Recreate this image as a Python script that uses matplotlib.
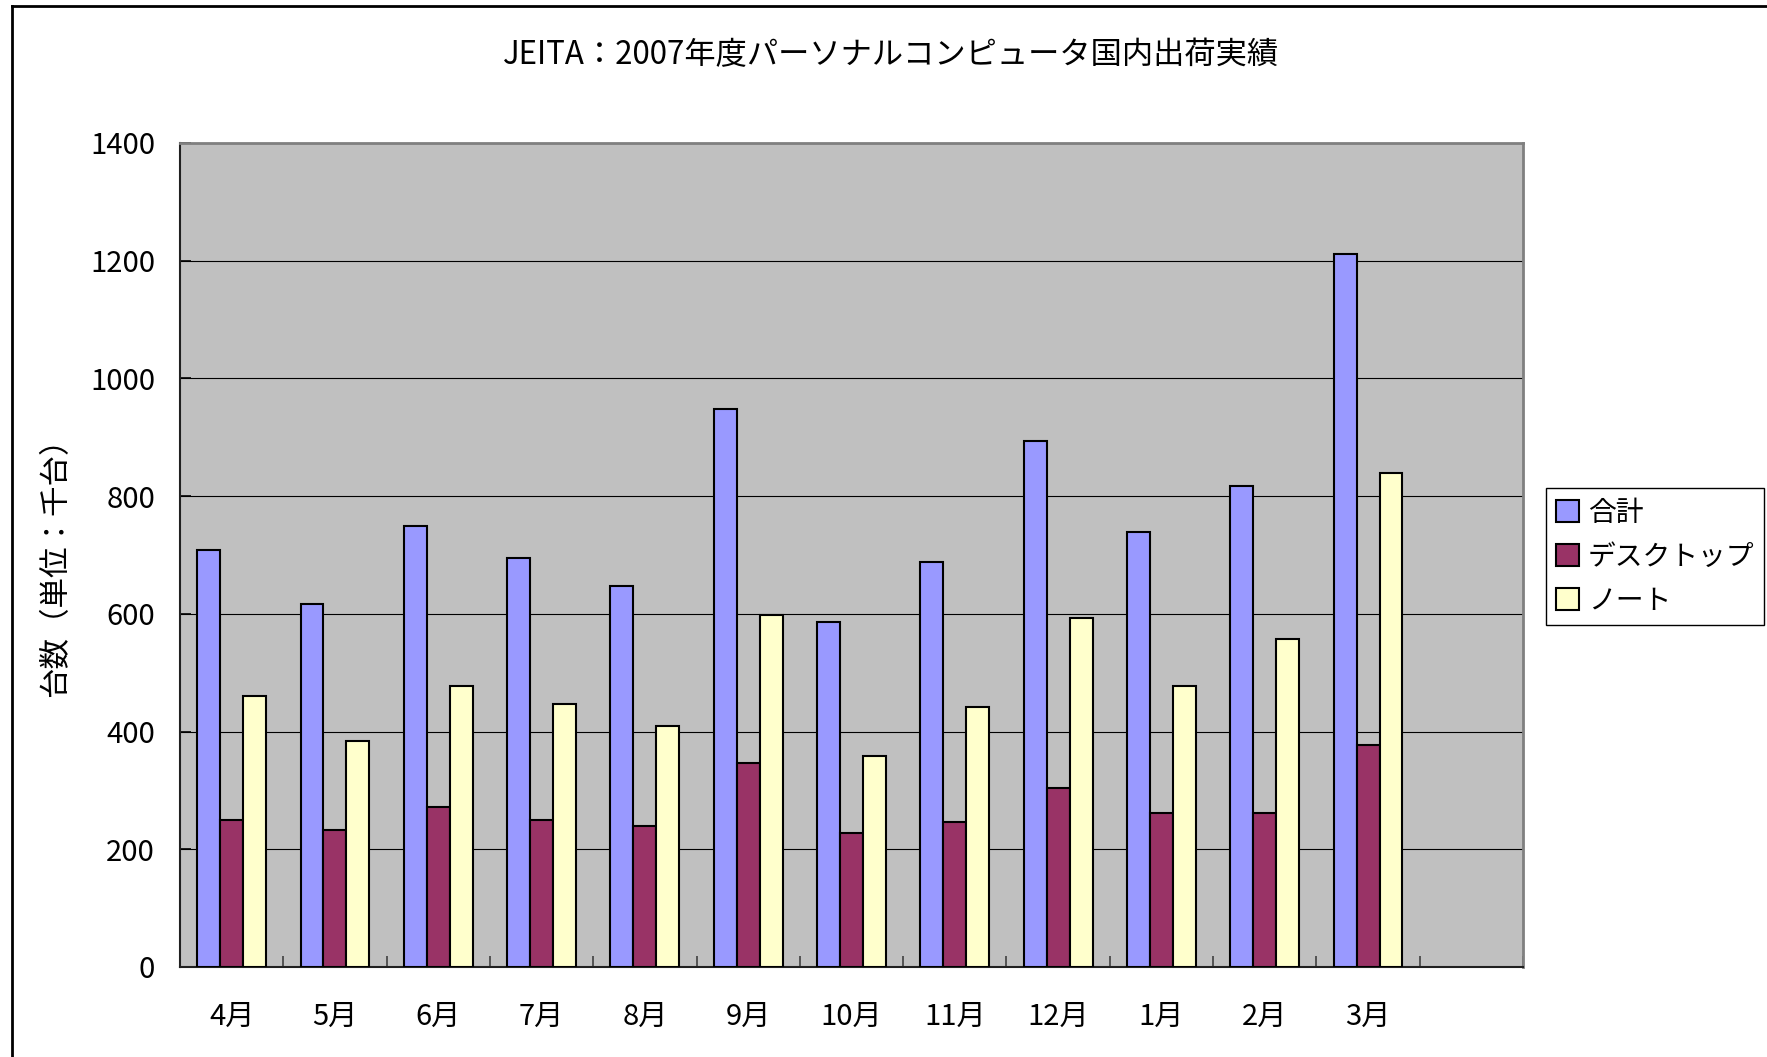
import numpy as np
import matplotlib
matplotlib.use("Agg")
from matplotlib import pyplot as plt
from matplotlib.lines import Line2D

plt.rcParams['font.family'] = ['Noto Sans CJK JP', 'DejaVu Sans']

months = ["4月", "5月", "6月", "7月", "8月", "9月", "10月", "11月", "12月",
          "1月", "2月", "3月"]
series_names = ["合計", "デスクトップ", "ノート"]
total = [709, 616, 750, 695, 648, 948, 587, 688, 894, 739, 818, 1211]
desktop = [249, 232, 272, 249, 239, 347, 228, 247, 304, 261, 261, 377]
notebook = [460, 384, 478, 446, 409, 598, 359, 441, 593, 478, 557, 840]
colors = ["#9999FF", "#993366", "#FFFFCC"]

fig = plt.figure(figsize=(17.67, 10.57), dpi=100)
ax = fig.add_axes([180 / 1767, 90 / 1057, (1523 - 180) / 1767, (967 - 143) / 1057])
ax.set_facecolor("#C0C0C0")

n = len(months)
x_pos = np.arange(n)
w = 2 / 9
for i, (vals, name) in enumerate(zip([total, desktop, notebook], series_names)):
    ax.bar(x_pos + (i - 1) * w, vals, width=w, color=colors[i],
           edgecolor="black", linewidth=1.5, label=name, zorder=3)

# 13 category slots, last one left empty (as in the original sheet)
ax.set_xlim(-0.5, n + 0.5)
ax.set_ylim(0, 1400)
ax.set_yticks(np.arange(0, 1401, 200))
ax.yaxis.grid(True, color="black", linewidth=0.8, zorder=1)

ax.set_xticks(x_pos)
ax.set_xticklabels(months, fontsize=21)
ax.set_xticks(np.arange(-0.5, n + 1, 1), minor=True)
ax.tick_params(axis="x", which="major", length=0, pad=25)
ax.tick_params(axis="x", which="minor", direction="in", length=8,
               width=1.2, color="#404040")
ax.tick_params(axis="y", direction="in", length=8, width=1.2,
               labelsize=21, pad=18)

for side in ["top", "right"]:
    ax.spines[side].set_color("#808080")
    ax.spines[side].set_linewidth(2)
for side in ["left", "bottom"]:
    ax.spines[side].set_color("#202020")
    ax.spines[side].set_linewidth(1.5)

fig.text(891 / 1767, 1 - 55 / 1057, "JEITA：2007年度パーソナルコンピュータ国内出荷実績",
         ha="center", va="center", fontsize=22.5)
fig.text(56 / 1767, 1 - 560 / 1057, "台数（単位：千台）", rotation=90,
         ha="center", va="center", fontsize=22)

fig.legend(loc="upper left", bbox_to_anchor=(1546 / 1767, 1 - 488 / 1057),
           borderaxespad=0, fancybox=False, edgecolor="black", framealpha=1,
           fontsize=20, handlelength=0.85, handleheight=0.85, handletextpad=0.3,
           labelspacing=0.5, borderpad=0.35)

# chart area frame (cropped at right and bottom in the original)
fig.add_artist(Line2D([12 / 1767, 12 / 1767], [0, 1 - 6 / 1057],
                      transform=fig.transFigure, color="black", linewidth=2))
fig.add_artist(Line2D([12 / 1767, 1], [1 - 6 / 1057, 1 - 6 / 1057],
                      transform=fig.transFigure, color="black", linewidth=2))

fig.savefig("out.png", dpi=100)
